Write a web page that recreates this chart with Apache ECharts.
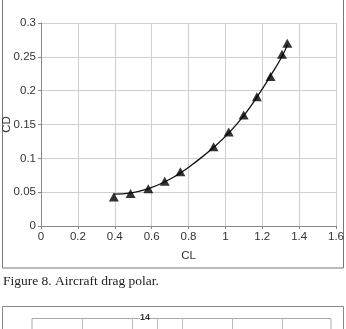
<!DOCTYPE html>
<html>
<head>
<meta charset="utf-8">
<script src="https://cdn.jsdelivr.net/npm/echarts@6/dist/echarts.min.js"></script>
<style>
	body { margin: 0; background: #fff; }
	#main { width: 346px; height: 329px; }
</style>
</head>
<body>
<div id="main"></div>
<script>
// 测量点 (CL, CD)
var clPoints = [0.395, 0.486, 0.582, 0.671, 0.756, 0.936, 1.018, 1.099, 1.171, 1.245, 1.307, 1.336];
var cdPoints = [0.043, 0.048, 0.055, 0.066, 0.080, 0.117, 0.139, 0.164, 0.191, 0.221, 0.254, 0.270];
// 拟合曲线
var clFit = [0.395, 0.49, 0.58, 0.67, 0.76, 0.85, 0.94, 1.02, 1.1, 1.17, 1.245, 1.31, 1.336];
var cdFit = [0.047, 0.049, 0.055, 0.065, 0.079, 0.097, 0.117, 0.138, 0.163, 0.190, 0.222, 0.252, 0.268];
var xTicks = [0, 0.2, 0.4, 0.6, 0.8, 1, 1.2, 1.4, 1.6];
var yTicks = [0, 0.05, 0.1, 0.15, 0.2, 0.25, 0.3];
var caption = 'Figure 8. Aircraft drag polar.';

function drawPolar(divId) {
	var dom = document.getElementById(divId);
	var chart = echarts.getInstanceByDom(dom);
	if (chart == '' || chart == undefined || chart == null) {
		chart = echarts.init(dom);
	} else {
		chart.clear();
	}

	var pts = [];
	for (var i = 0; i < clPoints.length; i++) {
		pts.push([clPoints[i], cdPoints[i]]);
	}
	var fit = [];
	for (var j = 0; j < clFit.length; j++) {
		fit.push([clFit[j], cdFit[j]]);
	}

	var labelStyle = {
		color: '#333',
		fontFamily: 'Liberation Sans',
		fontSize: 11.5
	};

	var option = {
		animation: false,
		backgroundColor: '#fff',
		grid: {
			left: 41,
			right: 10,
			top: 23,
			bottom: 103,
			containLabel: false,
			outerBoundsMode: 'none'
		},
		xAxis: {
			type: 'value',
			min: xTicks[0],
			max: xTicks[xTicks.length - 1],
			interval: 0.2,
			name: 'CL',
			nameLocation: 'middle',
			nameGap: 24,
			nameMoveOverlap: false,
			nameTextStyle: labelStyle,
			axisLine: { lineStyle: { color: '#888', width: 1 } },
			axisTick: { show: true, length: 3, lineStyle: { color: '#888' } },
			axisLabel: Object.assign({ margin: 5, showMaxLabel: true }, labelStyle),
			splitLine: { show: true, lineStyle: { color: '#cfcfcf', width: 1 } }
		},
		yAxis: {
			type: 'value',
			min: yTicks[0],
			max: yTicks[yTicks.length - 1],
			interval: 0.05,
			name: 'CD',
			nameLocation: 'middle',
			nameGap: 28,
			nameMoveOverlap: false,
			nameTextStyle: labelStyle,
			axisLine: { show: true, lineStyle: { color: '#888', width: 1 } },
			axisTick: { show: true, length: 3, lineStyle: { color: '#888' } },
			axisLabel: Object.assign({ margin: 5 }, labelStyle),
			splitLine: { show: true, lineStyle: { color: '#cfcfcf', width: 1 } }
		},
		series: [{
			type: 'line',
			smooth: true,
			showSymbol: false,
			data: fit,
			lineStyle: { color: '#111', width: 1.3 },
			z: 2
		}, {
			type: 'scatter',
			symbol: 'triangle',
			symbolSize: [10, 9],
			data: pts,
			itemStyle: { color: '#000' },
			z: 3
		}],
		graphic: [{
			type: 'rect',
			shape: { x: 2.5, y: -5, width: 341, height: 273 },
			style: { fill: 'none', stroke: '#777', lineWidth: 1 },
			silent: true,
			z: -1
		}, {
			type: 'text',
			left: 3,
			top: 274,
			style: {
				text: caption,
				fill: '#222',
				font: '13.5px "Liberation Serif"'
			}
		}, {
			type: 'rect',
			shape: { x: 2.5, y: 306.5, width: 341, height: 40 },
			style: { fill: 'none', stroke: '#888', lineWidth: 1 },
			silent: true
		}, {
			type: 'polyline',
			shape: { points: [[32, 345], [32, 318.5], [331, 318.5], [331, 345]] },
			style: { fill: 'none', stroke: '#aaa', lineWidth: 1 },
			silent: true
		}, {
			type: 'group',
			children: [82, 132, 157, 182, 232, 282].map(function (x) {
				return {
					type: 'line',
					shape: { x1: x + 0.5, y1: 318, x2: x + 0.5, y2: 345 },
					style: { stroke: '#bbb', lineWidth: 1 },
					silent: true
				};
			})
		}, {
			type: 'text',
			left: 140,
			top: 313,
			style: {
				text: '14',
				fill: '#333',
				backgroundColor: '#fff',
				font: 'bold 9px "Liberation Sans"'
			}
		}]
	};

	chart.setOption(option, true);
	window.addEventListener("resize", function(e) {
		chart.resize();
	});
	return chart;
}

drawPolar('main');
</script>
</body>
</html>
